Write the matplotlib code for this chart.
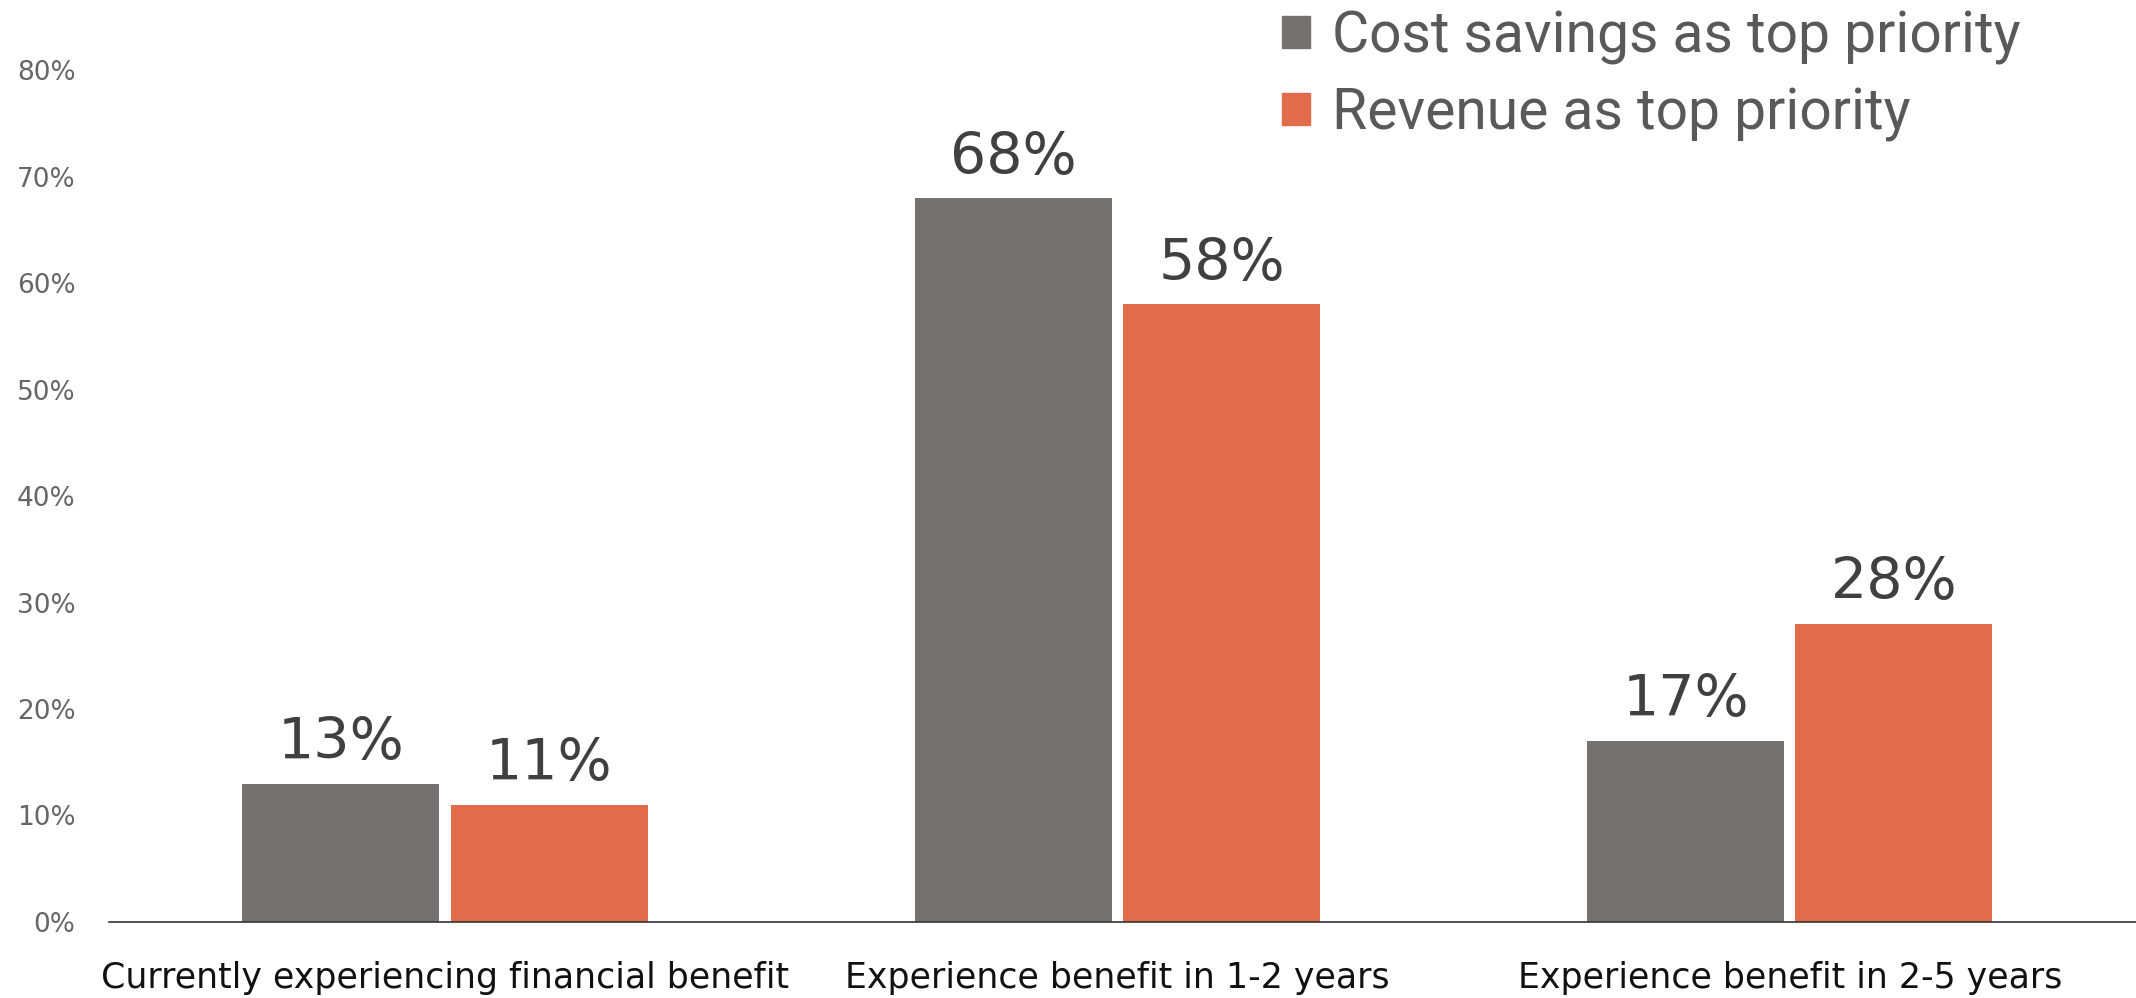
import matplotlib.pyplot as plt
import numpy as np
from matplotlib.patches import Patch

# survey results, share of respondents (%)
categories = ["Currently experiencing financial benefit",
              "Experience benefit in 1-2 years",
              "Experience benefit in 2-5 years"]
cost_savings = [13, 68, 17]
revenue = [11, 58, 28]
series_names = ["Cost savings as top priority", "Revenue as top priority"]
yticks = [0, 10, 20, 30, 40, 50, 60, 70, 80]

gray = "#75716f"
orange = "#e06c4c"

fig = plt.figure(figsize=(21.36, 9.98), dpi=100)
ax = fig.add_axes([0.051, 0.0762, 0.949, 0.9238])

x = np.arange(len(categories))
w = 0.293
off = 0.155
b1 = ax.bar(x - off, cost_savings, w, color=gray)
b2 = ax.bar(x + off, revenue, w, color=orange)

for bars, vals in [(b1, cost_savings), (b2, revenue)]:
    for b, v in zip(bars, vals):
        ax.annotate(f"{v}%", (b.get_x() + b.get_width() / 2, v),
                    xytext=(0, 9), textcoords="offset points",
                    ha="center", va="bottom", fontsize=41, color="#404040")

ax.set_xlim(-0.5, 2.515)
ax.set_ylim(0, 86.6)
ax.set_yticks(yticks)
ax.set_yticklabels([f"{t}%" for t in yticks], fontsize=19, color="#666666")
ax.set_xticks(x)
ax.set_xticklabels(categories, fontsize=25, color="#111111")
ax.tick_params(axis="both", length=0)
ax.tick_params(axis="y", pad=24)
ax.tick_params(axis="x", pad=28)

for s in ["top", "right", "left"]:
    ax.spines[s].set_visible(False)
ax.spines["bottom"].set_color("#333333")
ax.spines["bottom"].set_linewidth(1.2)

handles = [Patch(color=gray), Patch(color=orange)]
ax.legend(handles, series_names, loc="upper left",
          bbox_to_anchor=(0.587, 1.019), bbox_transform=fig.transFigure,
          frameon=False, labelcolor="#595959", borderpad=0,
          handlelength=0.48, handleheight=0.48, handletextpad=0.4,
          labelspacing=0.37, prop={"family": "Roboto", "size": 41})

fig.savefig("out.png", dpi=100)
